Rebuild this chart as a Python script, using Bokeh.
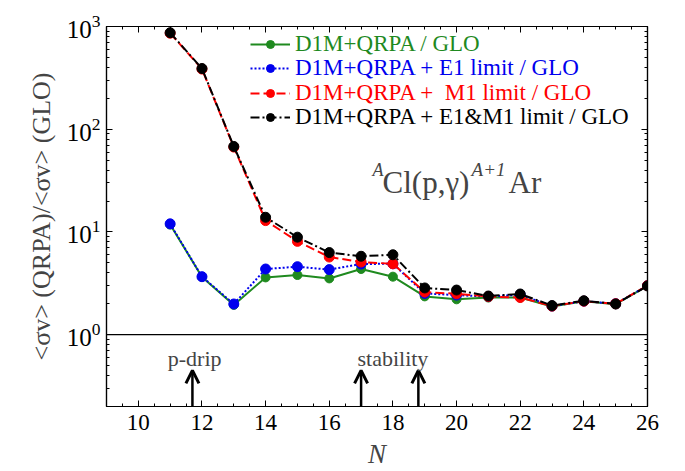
from bokeh.plotting import figure
from bokeh.models import (Range1d, LinearAxis, LogAxis, SingleIntervalTicker, LogTicker,
                          Span, Label, Legend, LegendItem, Arrow, OpenHead, ColumnDataSource,
                          CustomJSTickFormatter)
from bokeh.embed import file_html
from bokeh.resources import INLINE

# ---------------- data ----------------
N = [11, 12, 13, 14, 15, 16, 17, 18, 19, 20, 21, 22, 23, 24, 25, 26]
qrpa = [11.8, 3.65, 1.95, 3.61, 3.81, 3.53, 4.36, 3.67, 2.36, 2.21, 2.30, 2.30, 1.88, 2.12, 1.98, 2.98]
e1_limit = [12.0, 3.67, 1.99, 4.36, 4.59, 4.30, 4.88, 4.90, 2.52, 2.43, 2.35, 2.45, 1.90, 2.12, 2.00, 3.00]
m1_limit = [860, 385, 67, 12.9, 8.1, 5.7, 5.1, 4.9, 2.60, 2.50, 2.35, 2.30, 1.90, 2.12, 2.00, 3.00]
e1m1_limit = [870, 390, 68, 13.9, 8.9, 6.3, 5.8, 6.0, 2.85, 2.72, 2.38, 2.49, 1.92, 2.14, 1.99, 2.98]

series_labels = ["D1M+QRPA / GLO", "D1M+QRPA + E1 limit / GLO",
                 "D1M+QRPA +  M1 limit / GLO", "D1M+QRPA + E1&M1 limit / GLO"]
series_colors = ["#1f8a1f", "#0000ee", "#ff0000", "#000000"]
series_dash = ["solid", "2 2", "9 4", "9 3 2 3"]

arrow_N = [11.7, 17.0, 18.8]
arrow_y0 = [0.2, 0.2, 0.2]
arrow_y1 = [0.45, 0.45, 0.45]

FONT = "'Liberation Serif', 'DejaVu Serif', serif"

p = figure(frame_width=541, frame_height=380, min_border_left=106, min_border_top=26,
           min_border_right=20, min_border_bottom=50,
           x_range=Range1d(9, 26), y_range=Range1d(0.2, 1000), y_axis_type="log",
           output_backend="svg", toolbar_location=None)
p.background_fill_color = "white"
p.border_fill_color = "white"
p.outline_line_color = "black"
p.outline_line_width = 1.2
p.grid.visible = False

def style_axis(ax, label_size):
    ax.axis_line_color = "black"
    ax.axis_line_width = 1.2
    ax.major_tick_in = 6
    ax.major_tick_out = 0
    ax.minor_tick_in = 3
    ax.minor_tick_out = 0
    ax.major_tick_line_color = "black"
    ax.minor_tick_line_color = "black"
    ax.major_label_text_font = FONT
    ax.major_label_text_font_size = label_size
    ax.major_label_text_color = "black"

p.xaxis.ticker = SingleIntervalTicker(interval=2, num_minor_ticks=4)
style_axis(p.xaxis[0], "23px")
p.xaxis.major_label_standoff = 8
p.xaxis.axis_label = "N"
p.xaxis.axis_label_text_font = FONT
p.xaxis.axis_label_text_font_style = "italic"
p.xaxis.axis_label_text_font_size = "27px"
p.xaxis.axis_label_standoff = 6

p.yaxis.ticker = LogTicker(num_minor_ticks=10, desired_num_ticks=5)
style_axis(p.yaxis[0], "25px")
p.yaxis.major_label_standoff = 6
p.yaxis.axis_label = "<σv> (QRPA)/<σv> (GLO)"
p.yaxis.axis_label_text_font = FONT
p.yaxis.axis_label_text_font_style = "normal"
p.yaxis.axis_label_text_font_size = "26px"
p.yaxis.axis_label_standoff = 8

top = LinearAxis(ticker=SingleIntervalTicker(interval=2, num_minor_ticks=4),
                 formatter=CustomJSTickFormatter(code="return ''"))
style_axis(top, "10px")
top.major_label_standoff = 0
p.add_layout(top, "above")
right = LogAxis(ticker=LogTicker(num_minor_ticks=10, desired_num_ticks=5),
                formatter=CustomJSTickFormatter(code="return ''"))
style_axis(right, "10px")
right.major_label_standoff = 0
p.add_layout(right, "right")

p.add_layout(Span(location=1, dimension="width", line_color="black", line_width=1.2))

renderers = []
for vals, col, dash, sz in zip([qrpa, e1_limit, m1_limit, e1m1_limit], series_colors, series_dash,
                               [9, 10, 10, 10]):
    lr = p.line(N, vals, line_color=col, line_width=2, line_dash=dash)
    sr = p.scatter(N, vals, size=sz, fill_color=col, line_color=col)
    renderers.append((lr, sr))

# legends (one per entry so each label keeps its own colour)
rows_y = [349, 325, 300, 276]
for (lr, sr), lab, col, yy in zip(renderers, series_labels, series_colors, rows_y):
    leg = Legend(items=[LegendItem(label=lab, renderers=[lr, sr])], location=(144, yy),
                 label_text_font=FONT, label_text_font_size="23px", label_text_color=col,
                 glyph_width=40, glyph_height=20, label_height=20, label_standoff=5,
                 padding=0, margin=0, spacing=0, border_line_color=None,
                 background_fill_alpha=0)
    p.add_layout(leg)

# reaction annotation
tx, ty = 17.36, 30.0
p.add_layout(Label(x=tx, y=ty, text="A", text_font=FONT, text_font_style="italic",
                   text_font_size="18px", y_offset=13, text_baseline="alphabetic"))
p.add_layout(Label(x=tx, y=ty, text="Cl(p,γ)", text_font=FONT, text_font_size="31px",
                   x_offset=10, text_baseline="alphabetic"))
p.add_layout(Label(x=tx, y=ty, text="A+1", text_font=FONT, text_font_style="italic",
                   text_font_size="19px", x_offset=99, y_offset=13, text_baseline="alphabetic"))
p.add_layout(Label(x=tx, y=ty, text="Ar", text_font=FONT, text_font_size="31px",
                   x_offset=136, text_baseline="alphabetic"))

# arrows and their labels
asrc = ColumnDataSource(dict(x=arrow_N, y0=arrow_y0, y1=arrow_y1))
p.add_layout(Arrow(x_start="x", y_start="y0", x_end="x", y_end="y1", source=asrc,
                   line_width=2.5, line_color="black",
                   end=OpenHead(size=13, line_width=3, line_color="black")))
p.add_layout(Label(x=11.77, y=0.58, text="p-drip", text_font=FONT, text_font_size="22px",
                   text_align="center", text_baseline="alphabetic"))
p.add_layout(Label(x=18.0, y=0.58, text="stability", text_font=FONT, text_font_size="22px",
                   text_align="center", text_baseline="alphabetic"))

open("out.html", "w").write(file_html(p, INLINE))
